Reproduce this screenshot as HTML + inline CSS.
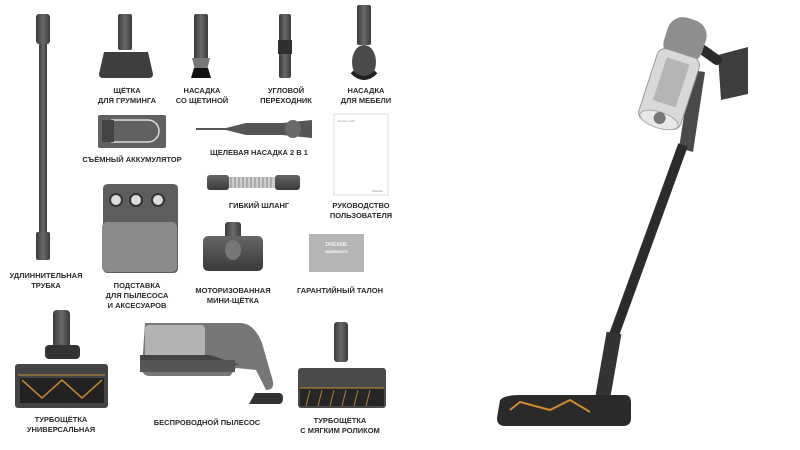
<!DOCTYPE html>
<html><head><meta charset="utf-8"><style>
body{margin:0;width:800px;height:450px;background:#fff;overflow:hidden;position:relative;font-family:"Liberation Sans",sans-serif}
.l{position:absolute;font-size:7.5px;font-weight:bold;color:#2a2a2a;text-align:center;line-height:10px;white-space:nowrap;transform:translateX(-50%)}
svg{position:absolute;left:0;top:0}
</style></head><body>
<svg width="800" height="450" viewBox="0 0 800 450">
<defs>
<linearGradient id="g" x1="0" x2="1"><stop offset="0" stop-color="#3a3a3a"/><stop offset=".5" stop-color="#6a6a6a"/><stop offset="1" stop-color="#3a3a3a"/></linearGradient>
<linearGradient id="gv" x1="0" y1="0" x2="0" y2="1"><stop offset="0" stop-color="#666"/><stop offset="1" stop-color="#3a3a3a"/></linearGradient>
</defs>
<rect x="36" y="14" width="14" height="30" rx="3" fill="url(#g)"/>
<rect x="39" y="44" width="8" height="190" fill="url(#g)"/>
<rect x="36" y="232" width="14" height="28" rx="2" fill="url(#g)"/>
<rect x="118" y="14" width="14" height="36" rx="2" fill="url(#g)"/>
<path d="M104 52 h44 l5 22 q0 4 -4 4 h-46 q-4 0 -4 -4z" fill="#3e3e3e"/>
<rect x="194" y="14" width="14" height="46" rx="2" fill="url(#g)"/>
<path d="M192 58 h18 l-3 12 h-12z" fill="#777"/><path d="M194 68 h14 l3 10 h-20z" fill="#111"/>
<rect x="279" y="14" width="12" height="64" rx="2" fill="url(#g)"/>
<rect x="278" y="40" width="14" height="14" fill="#2f2f2f"/>
<rect x="357" y="5" width="14" height="40" rx="2" fill="url(#g)"/>
<ellipse cx="364" cy="62" rx="12" ry="17" fill="#4a4a4a"/>
<path d="M352 72 q12 12 24 0" stroke="#222" stroke-width="4" fill="none"/>
<rect x="98" y="115" width="68" height="33" rx="2" fill="#616161"/>
<path d="M112 120 h36 a10 10 0 0 1 0 22 h-36z" fill="none" stroke="#ddd" stroke-width="1.5"/>
<rect x="102" y="120" width="12" height="22" fill="#444"/>
<path d="M196 128 h30 l20 -5 h36 l30 -3 v18 l-30 -3 h-36 l-20 -5 h-30z" fill="#555"/>
<ellipse cx="293" cy="129" rx="8" ry="9" fill="#6a6a6a"/>
<rect x="334" y="114" width="54" height="81" fill="#fff" stroke="#ddd"/>
<text x="338" y="122" font-size="3" fill="#999" font-family="Liberation Sans">Dreame Z30</text>
<text x="372" y="192" font-size="2.5" fill="#999" font-family="Liberation Sans">DREAME</text>
<rect x="207" y="175" width="22" height="15" rx="3" fill="url(#gv)"/>
<rect x="229" y="177" width="46" height="11" fill="#ccc"/>
<path d="M231 177 v11 M235 177 v11 M239 177 v11 M243 177 v11 M247 177 v11 M251 177 v11 M255 177 v11 M259 177 v11 M263 177 v11 M267 177 v11 M271 177 v11" stroke="#888" stroke-width="1"/>
<rect x="275" y="175" width="25" height="15" rx="3" fill="url(#gv)"/>
<path d="M103 184 h70 q5 0 5 5 v79 q0 5 -5 5 h-65 q-5 0 -5 -5 v-79 q0 -5 5 -5z" fill="#5e5e5e"/>
<rect x="102" y="222" width="75" height="50" rx="5" fill="#8a8a8a"/>
<circle cx="116" cy="200" r="6" fill="#ddd" stroke="#333" stroke-width="2"/><circle cx="136" cy="200" r="6" fill="#ddd" stroke="#333" stroke-width="2"/><circle cx="158" cy="200" r="6" fill="#ddd" stroke="#333" stroke-width="2"/>
<rect x="225" y="222" width="16" height="22" rx="3" fill="url(#g)"/>
<rect x="203" y="236" width="60" height="35" rx="5" fill="url(#gv)"/>
<ellipse cx="233" cy="250" rx="8" ry="10" fill="#777"/>
<rect x="309" y="234" width="55" height="38" fill="#b5b5b5"/>
<text x="336.5" y="246" font-size="5" fill="#eee" text-anchor="middle" font-weight="bold" font-family="Liberation Sans">DREAME</text>
<text x="336.5" y="253" font-size="4" fill="#fff" text-anchor="middle" font-weight="bold" font-family="Liberation Sans">WARRANTY</text>
<rect x="53" y="310" width="17" height="40" rx="4" fill="url(#g)"/>
<rect x="45" y="345" width="35" height="14" rx="4" fill="#333"/>
<rect x="15" y="364" width="93" height="44" rx="3" fill="#444"/>
<rect x="20" y="378" width="84" height="25" fill="#222"/>
<path d="M22 380 l20 18 l20 -18 l20 18 l20 -18" stroke="#d08a2a" stroke-width="1.5" fill="none"/>
<line x1="18" y1="375" x2="105" y2="375" stroke="#c9902e" stroke-width="1"/>
<path d="M145 323 h95 q14 0 22 20 l10 35 q4 12 -6 12 l-10 -20 l-20 -2 l-6 8 h-80 q-8 0 -8 -8z" fill="#777"/>
<rect x="145" y="325" width="60" height="35" rx="4" fill="#c0c0c0" opacity=".8"/>
<path d="M140 355 h70 l30 10 h-100z" fill="#444"/>
<path d="M140 360 h95 v12 h-95z" fill="#555"/>
<path d="M255 393 h24 q4 0 4 5 q0 6 -4 6 h-30z" fill="#333"/>
<rect x="334" y="322" width="14" height="40" rx="3" fill="url(#g)"/>
<rect x="298" y="368" width="88" height="40" rx="3" fill="#4a4a4a"/>
<rect x="300" y="388" width="84" height="18" fill="#262626"/>
<line x1="300" y1="388" x2="384" y2="388" stroke="#c9902e" stroke-width="1"/>
<path d="M310 390 l-4 16 M322 390 l-4 16 M334 390 l-4 16 M346 390 l-4 16 M358 390 l-4 16 M370 390 l-4 16" stroke="#b58336" stroke-width="1"/>
<!-- right stick vacuum -->
<path d="M718 55 l30 -8 v47 l-27 6z" fill="#3e3e3e"/>
<path d="M703 50 l14 10" stroke="#2a2a2a" stroke-width="10" stroke-linecap="round"/>
<path d="M705 72 l-12 80 l-14 -4 l12 -78z" fill="#4a4a4a"/>
<line x1="683" y1="145" x2="614" y2="335" stroke="#2c2c2c" stroke-width="10"/>
<line x1="614" y1="333" x2="603" y2="396" stroke="#333" stroke-width="15"/>
<g transform="rotate(18 672 80)">
<rect x="652" y="16" width="40" height="44" rx="16" fill="#8e8e8e"/>
<rect x="650" y="52" width="44" height="75" rx="8" fill="#d9d9d9" stroke="#999"/>
<rect x="660" y="60" width="24" height="45" fill="#b5b5b5"/>
<ellipse cx="672" cy="122" rx="20" ry="8" fill="#e8e8e8" stroke="#aaa"/>
<circle cx="672" cy="120" r="6" fill="#777"/>
</g>
<path d="M500 400 q5 -5 20 -5 h105 q6 0 6 8 v15 q0 8 -8 8 h-118 q-8 0 -8 -8z" fill="#2a2a2a"/>
<path d="M510 410 l10 -8 l30 8 l20 -10 l20 12" stroke="#d08a2a" stroke-width="2" fill="none"/>
</svg>
<div class="l" style="left:46px;top:271px">УДЛИННИТЕЛЬНАЯ<br>ТРУБКА</div>
<div class="l" style="left:127px;top:86px">ЩЁТКА<br>ДЛЯ ГРУМИНГА</div>
<div class="l" style="left:202px;top:86px">НАСАДКА<br>СО ЩЕТИНОЙ</div>
<div class="l" style="left:286px;top:86px">УГЛОВОЙ<br>ПЕРЕХОДНИК</div>
<div class="l" style="left:366px;top:86px">НАСАДКА<br>ДЛЯ МЕБЕЛИ</div>
<div class="l" style="left:132px;top:155px">СЪЁМНЫЙ АККУМУЛЯТОР</div>
<div class="l" style="left:259px;top:148px">ЩЕЛЕВАЯ НАСАДКА 2 В 1</div>
<div class="l" style="left:259px;top:201px">ГИБКИЙ ШЛАНГ</div>
<div class="l" style="left:361px;top:201px">РУКОВОДСТВО<br>ПОЛЬЗОВАТЕЛЯ</div>
<div class="l" style="left:137px;top:281px">ПОДСТАВКА<br>ДЛЯ ПЫЛЕСОСА<br>И АКСЕСУАРОВ</div>
<div class="l" style="left:233px;top:286px">МОТОРИЗОВАННАЯ<br>МИНИ-ЩЁТКА</div>
<div class="l" style="left:340px;top:286px">ГАРАНТИЙНЫЙ ТАЛОН</div>
<div class="l" style="left:61px;top:415px">ТУРБОЩЁТКА<br>УНИВЕРСАЛЬНАЯ</div>
<div class="l" style="left:207px;top:418px">БЕСПРОВОДНОЙ ПЫЛЕСОС</div>
<div class="l" style="left:340px;top:416px">ТУРБОЩЁТКА<br>С МЯГКИМ РОЛИКОМ</div>
</body></html>
